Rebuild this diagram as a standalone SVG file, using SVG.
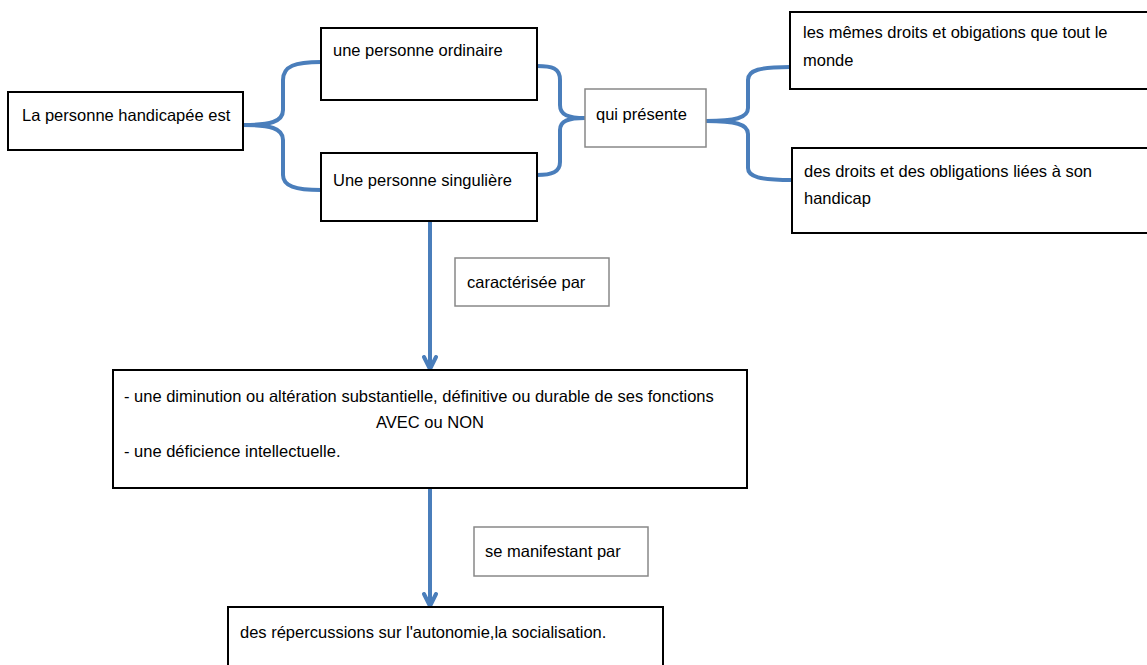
<svg xmlns="http://www.w3.org/2000/svg" width="1147" height="665" viewBox="0 0 1147 665">
<style>
.box{fill:#fff;stroke:#000;stroke-width:2}
.lbl{fill:#fff;stroke:#888;stroke-width:1.5}
text{font-family:"Liberation Sans",Arial,sans-serif;font-size:16.5px;fill:#000}
.c{fill:none;stroke:#4a7ebb;stroke-width:4;stroke-linecap:round}
</style>
<defs>
<marker id="ah" viewBox="0 0 16 16" refX="14" refY="8" markerWidth="16" markerHeight="16" markerUnits="userSpaceOnUse" orient="auto">
<path d="M2,2 L14,8 L2,14" fill="none" stroke="#4a7ebb" stroke-width="4" stroke-linecap="round" stroke-linejoin="round"/>
</marker>
</defs>
<rect width="1147" height="665" fill="#fff"/>
<g id="connectors">
<path class="c" d="M243,125 C270,125 283,122 283,110 L283,80 C283,66 295,62 321,62"/>
<path class="c" d="M243,125 C270,125 283,128 283,140 L283,175 C283,186 295,190 321,190"/>
<path class="c" d="M537,66 C552,66 560,68 560,80 L560,105 C560,115 568,118 585,118"/>
<path class="c" d="M537,175 C552,175 560,172 560,162 L560,130 C560,121 568,118 585,118"/>
<path class="c" d="M706,121 C735,121 748,118 748,108 L748,80 C748,70 760,67 790,67"/>
<path class="c" d="M706,121 C735,121 748,124 748,134 L748,168 C748,177 760,180 792,180"/>
<path class="c" d="M430,221 L430,369" marker-end="url(#ah)"/>
<path class="c" d="M430,488 L430,606" marker-end="url(#ah)"/>
</g>
<g id="n1"><rect class="box" x="8" y="92" width="235" height="58"/><text x="22" y="121">La personne handicapée est</text></g>
<g id="n2"><rect class="box" x="321" y="28" width="216" height="72"/><text x="333" y="56">une personne ordinaire</text></g>
<g id="n3"><rect class="box" x="321" y="153" width="216" height="68"/><text x="333" y="186">Une personne singulière</text></g>
<g id="n4"><rect class="lbl" x="585" y="89" width="121" height="58"/><text x="596" y="120">qui présente</text></g>
<g id="n5"><rect class="box" x="790" y="12" width="360" height="77"/><text x="803" y="38">les mêmes droits et obigations que tout le</text><text x="803" y="66">monde</text></g>
<g id="n6"><rect class="box" x="792" y="148" width="360" height="85"/><text x="804" y="177">des droits et des obligations liées à son</text><text x="804" y="204">handicap</text></g>
<g id="n7"><rect class="lbl" x="455" y="258" width="154" height="48"/><text x="467" y="288">caractérisée par</text></g>
<g id="n8"><rect class="box" x="113" y="370" width="634" height="118"/><text x="124" y="402">- une diminution ou altération substantielle, définitive ou durable de ses fonctions</text><text x="430" y="428" text-anchor="middle">AVEC ou NON</text><text x="124" y="457">- une déficience intellectuelle.</text></g>
<g id="n9"><rect class="lbl" x="474" y="527" width="174" height="49"/><text x="485" y="557">se manifestant par</text></g>
<g id="n10"><rect class="box" x="228" y="607" width="435" height="70"/><text x="240" y="638">des répercussions sur l'autonomie,la socialisation.</text></g>
</svg>
